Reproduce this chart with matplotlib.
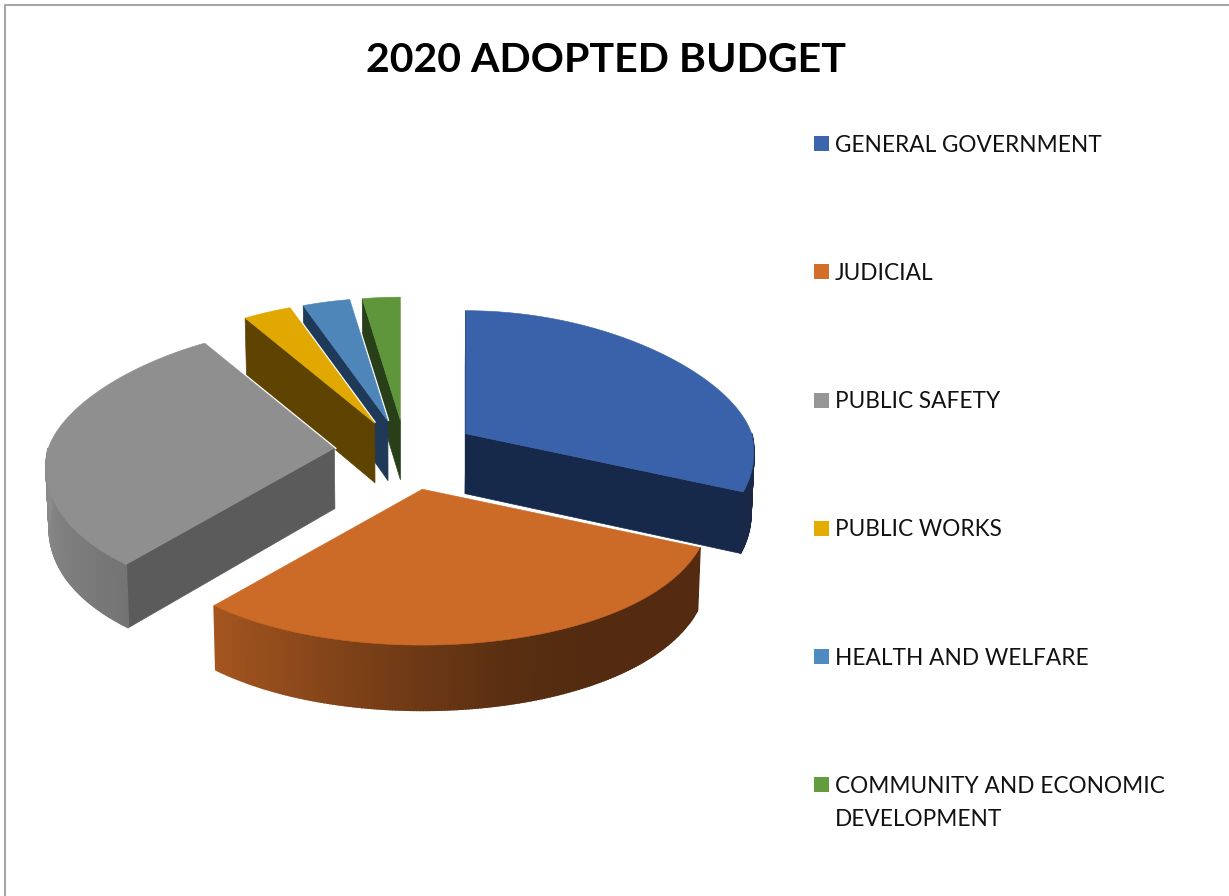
# 2020 adopted budget, exploded 3D pie drawn by hand on a pixel-sized axes
import numpy as np
import matplotlib
matplotlib.use('Agg')
import matplotlib.pyplot as plt
from matplotlib.patches import Polygon, Rectangle
from matplotlib.colors import to_rgb

# data (percent)
labels = ['GENERAL GOVERNMENT', 'JUDICIAL', 'PUBLIC SAFETY', 'PUBLIC WORKS',
          'HEALTH AND WELFARE', 'COMMUNITY AND ECONOMIC\nDEVELOPMENT']
shares = [31.1, 30.5, 29.7, 3.1, 3.1, 2.5]

# colours
top_colors = ['#3A62AA', '#CC6A27', '#8F8F8F', '#E0A800', '#4E86BA', '#5F963C']
wall_colors = ['#17294A', '#54290F', '#5B5B5B', '#5E4400', '#1F3A58', '#283F1A']
legend_colors = ['#3C65AE', '#D26E2A', '#969696', '#E4AC00', '#4F8BC0', '#639C3E']

# pie geometry in pixels
cx, cy = 406, 451
radius = 286
explode = 72
ratio_up, ratio_down = 0.43, 0.545


def offset(r, theta):
    # theta in degrees, clockwise from the top; the front is drawn a bit bigger
    t = np.radians(theta)
    dy = -r * np.cos(t)
    return r * np.sin(t), dy * np.where(dy < 0, ratio_up, ratio_down)


def rim(r, theta):
    # same as offset, with the perspective squeeze of x towards the back
    ox, oy = offset(r, theta)
    return ox * (1 + np.where(oy < 0, 0.00122, 0.0008) * oy), oy


def depth(y):
    return 57 + (y - 315) * 0.025


def lower(x, y):
    # bottom edge of a wall: straight below, pulled slightly towards the middle
    return x - 0.0085 * (x - cx), y + depth(y)


def light(theta):
    return np.interp(theta, [90, 150, 165, 186, 205, 222, 270],
                     [.41, .41, .44, .57, .70, .81, .98])


fig = plt.figure(figsize=(12.29, 8.96), dpi=100)
ax = fig.add_axes([0, 0, 1, 1])
ax.set_xlim(0, 1229)
ax.set_ylim(896, 0)
ax.axis('off')

edges = np.concatenate([[0], np.cumsum(shares)]) / sum(shares) * 360

# back slices first so the front ones paint over them
for i in [5, 4, 3, 2, 0, 1]:
    a1, a2 = edges[i], edges[i + 1]
    dx, dy = offset(explode, (a1 + a2) / 2)
    ax0, ay0 = cx + dx, cy + dy
    th = np.linspace(a1, a2, 200)
    ox, oy = rim(radius, th)
    ox, oy = ax0 + ox, ay0 + oy
    top = np.column_stack([np.r_[ax0, ox], np.r_[ay0, oy]])

    # white halo, hidden again by the walls and the top face
    ax.add_patch(Polygon(top, closed=True, fc='white', ec='white', lw=2.2))

    # cut walls
    if a2 < 180:
        ax.add_patch(Polygon([(ax0, ay0), (ox[-1], oy[-1]),
                              lower(ox[-1], oy[-1]), lower(ax0, ay0)],
                             fc=wall_colors[i], ec=wall_colors[i], lw=0.5))
    if a1 >= 180 or a1 == 0:
        ax.add_patch(Polygon([(ax0, ay0), (ox[0], oy[0]),
                              lower(ox[0], oy[0]), lower(ax0, ay0)],
                             fc=wall_colors[i], ec=wall_colors[i], lw=0.5))

    # outer wall, in thin strips so the shading can change along it
    for k in range(len(th) - 1):
        mid = (th[k] + th[k + 1]) / 2
        if 90 < mid < 270:
            c = np.array(to_rgb(top_colors[i])) * light(mid)
            ax.add_patch(Polygon([(ox[k], oy[k]), (ox[k + 1], oy[k + 1]),
                                  lower(ox[k + 1], oy[k + 1]), lower(ox[k], oy[k])],
                                 fc=c, ec=c, lw=1.2))

    ax.add_patch(Polygon(top, closed=True, fc=top_colors[i], ec=top_colors[i], lw=0.4))

# chart border, only top and left are in the crop
ax.plot([5, 5, 1229], [896, 5, 5], color='#A6A6A6', lw=1.5)

ax.text(606, 72, '2020 ADOPTED BUDGET', family='Lato', weight='bold', fontsize=29.6,
        ha='center', va='baseline', color='black')

# legend
for i, lab in enumerate(labels):
    y = 143.5 + i * 128.3
    ax.add_patch(Rectangle((814, y - 7.5), 15, 15, fc=legend_colors[i], ec='none'))
    for j, line in enumerate(lab.split('\n')):
        ax.text(835, y + 8 + j * 32.5, line, family='Lato', fontsize=16.3,
                ha='left', va='baseline', color='#111111')

fig.savefig('out.png', dpi=100)
